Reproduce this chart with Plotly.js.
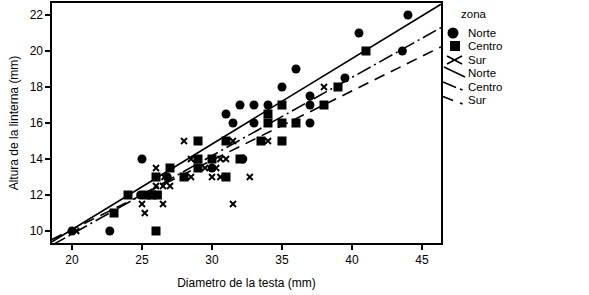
<!DOCTYPE html>
<html>
<head>
<meta charset="utf-8">
<script src="https://cdn.plot.ly/plotly-3.0.1.min.js"></script>
<style>html,body{margin:0;padding:0;background:#fff;}#chart{width:589px;height:295px;}</style>
</head>
<body>
<div id="chart"></div>
<script>
// Norte (circles)
const norteX = [20, 22.7, 24.9, 25, 26.8, 30, 32.2, 31, 31.5, 32, 33, 33, 34, 35, 36, 37, 37, 37, 39.5, 40.5, 43.6, 44];
const norteY = [10, 10, 12, 14, 13, 13.5, 14, 16.5, 16, 17, 17, 16, 17, 18, 19, 17.5, 17, 16, 18.5, 21, 20, 22];
// Centro (squares)
const centroX = [23, 24, 25.3, 25.7, 26.1, 26, 26, 27, 28, 29, 29, 29, 30, 31, 31, 32, 33.5, 34, 34, 35, 35, 35, 36, 38, 39, 41];
const centroY = [11, 12, 12, 12, 12, 10, 13, 13.5, 13, 13.5, 14, 15, 14, 13, 15, 14, 15, 16, 16.5, 15, 16, 17, 16, 17, 18, 20];
// Sur (crosses)
const surX = [20.3, 25, 25.2, 26, 26.5, 27, 26.5, 26, 26.6, 28, 28.5, 28.5, 29.5, 30.3, 30, 30.6, 30.6, 31, 31.5, 31.5, 32.7, 34, 38];
const surY = [10, 11.5, 11, 12.5, 12.5, 12.5, 11.5, 13.5, 13, 15, 14, 13, 13.5, 13.5, 13, 13, 14, 14, 15, 11.5, 13, 15, 18];
// Fit lines (values read at the axis ends)
const fitX = [18.57, 46.36];
const norteFitY = [9.40, 22.60];
const centroFitY = [9.21, 21.30];
const surFitY = [9.53, 20.23];

const xRange = [18.57, 46.36];
const yRange = [9.333, 22.667];
const xTicks = [20, 25, 30, 35, 40, 45];
const yTicks = [10, 12, 14, 16, 18, 20, 22];

// legend labels
const legendTitle = 'zona';
const zonas = ['Norte', 'Centro', 'Sur'];

const FONT = 'Liberation Sans, Arial, sans-serif';
const CENTRO_DASH = '15px,4px,2px,4px';
const SUR_DASH = '11px,7px';

const traces = [
  {x: norteX, y: norteY, mode: 'markers', type: 'scatter', name: zonas[0],
   marker: {symbol: 'circle', size: 9, color: '#000'}},
  {x: centroX, y: centroY, mode: 'markers', type: 'scatter', name: zonas[1],
   marker: {symbol: 'square', size: 9, color: '#000'}},
  {x: surX, y: surY, mode: 'markers', type: 'scatter', name: zonas[2],
   marker: {symbol: 'x-thin-open', size: 6, color: '#000', line: {width: 1.9, color: '#000'}}},
  {x: fitX, y: norteFitY, mode: 'lines', type: 'scatter', name: zonas[0],
   line: {color: '#000', width: 1.6, dash: 'solid'}},
  {x: fitX, y: centroFitY, mode: 'lines', type: 'scatter', name: zonas[1],
   line: {color: '#000', width: 1.6, dash: CENTRO_DASH}},
  {x: fitX, y: surFitY, mode: 'lines', type: 'scatter', name: zonas[2],
   line: {color: '#000', width: 1.6, dash: SUR_DASH}}
];

// plot area in pixels (for placing the legend block)
const PL = 52, PW = 389, PB = 243, PH = 240;
const px = v => (v - PL) / PW;
const py = v => (PB - v) / PH;

const shapes = [
  // circle marker
  {type: 'circle', xref: 'paper', yref: 'paper', xsizemode: 'pixel', ysizemode: 'pixel',
   xanchor: px(453), yanchor: py(33), x0: -5.5, x1: 5.5, y0: -5.5, y1: 5.5,
   fillcolor: '#000', line: {width: 0}},
  // square marker
  {type: 'rect', xref: 'paper', yref: 'paper', xsizemode: 'pixel', ysizemode: 'pixel',
   xanchor: px(455), yanchor: py(46), x0: -5, x1: 5, y0: -5, y1: 5,
   fillcolor: '#000', line: {width: 0}},
  // cross marker
  {type: 'line', xref: 'paper', yref: 'paper', x0: px(447), y0: py(56), x1: px(462), y1: py(64), line: {color: '#000', width: 1.8}},
  {type: 'line', xref: 'paper', yref: 'paper', x0: px(447), y0: py(64), x1: px(462), y1: py(56), line: {color: '#000', width: 1.8}},
  // solid line glyph
  {type: 'line', xref: 'paper', yref: 'paper', x0: px(444), y0: py(67), x1: px(465), y1: py(77), line: {color: '#000', width: 1.6}},
  // dash-dot glyph
  {type: 'line', xref: 'paper', yref: 'paper', x0: px(443), y0: py(82), x1: px(456), y1: py(87.5), line: {color: '#000', width: 1.6}},
  {type: 'line', xref: 'paper', yref: 'paper', x0: px(460), y0: py(89), x1: px(462.5), y1: py(90), line: {color: '#000', width: 1.6}},
  // dashed glyph
  {type: 'line', xref: 'paper', yref: 'paper', x0: px(443), y0: py(96.5), x1: px(453), y1: py(100.5), line: {color: '#000', width: 1.6}},
  {type: 'line', xref: 'paper', yref: 'paper', x0: px(460), y0: py(103), x1: px(462.5), y1: py(104), line: {color: '#000', width: 1.6}}
];

const legendTextY = [33, 46, 60, 73, 87, 100];
const annotations = [
  {xref: 'paper', yref: 'paper', x: px(459), y: py(14), xanchor: 'left', yanchor: 'middle',
   text: legendTitle, showarrow: false, font: {size: 11.5, color: '#000'}}
];
[zonas[0], zonas[1], zonas[2], zonas[0], zonas[1], zonas[2]].forEach((t, i) => {
  annotations.push({xref: 'paper', yref: 'paper', x: px(466), y: py(legendTextY[i]),
    xanchor: 'left', yanchor: 'middle', text: t, showarrow: false,
    font: {size: 11.5, color: '#000'}});
});

const layout = {
  width: 589, height: 295,
  margin: {l: 52, r: 148, t: 3, b: 52, pad: 0},
  paper_bgcolor: '#fff', plot_bgcolor: '#fff',
  font: {family: FONT, size: 12, color: '#000'},
  showlegend: false,
  shapes: shapes,
  annotations: annotations,
  xaxis: {range: xRange, tickvals: xTicks, ticktext: xTicks.map(String),
    showgrid: false, zeroline: false, showline: true, mirror: true,
    linecolor: '#000', linewidth: 1.6, ticks: 'outside', ticklen: 5, tickwidth: 1.5, tickcolor: '#000',
    tickfont: {size: 12},
    title: {text: 'Diametro de la testa (mm)', font: {size: 12}, standoff: 12}},
  yaxis: {range: yRange, tickvals: yTicks, ticktext: yTicks.map(String),
    showgrid: false, zeroline: false, showline: true, mirror: true,
    linecolor: '#000', linewidth: 1.6, ticks: 'outside', ticklen: 5, tickwidth: 1.5, tickcolor: '#000',
    tickfont: {size: 12},
    title: {text: 'Altura de la linterna (mm)', font: {size: 12}, standoff: 8}}
};

Plotly.newPlot('chart', traces, layout, {displayModeBar: false, staticPlot: true});
</script>
</body>
</html>
